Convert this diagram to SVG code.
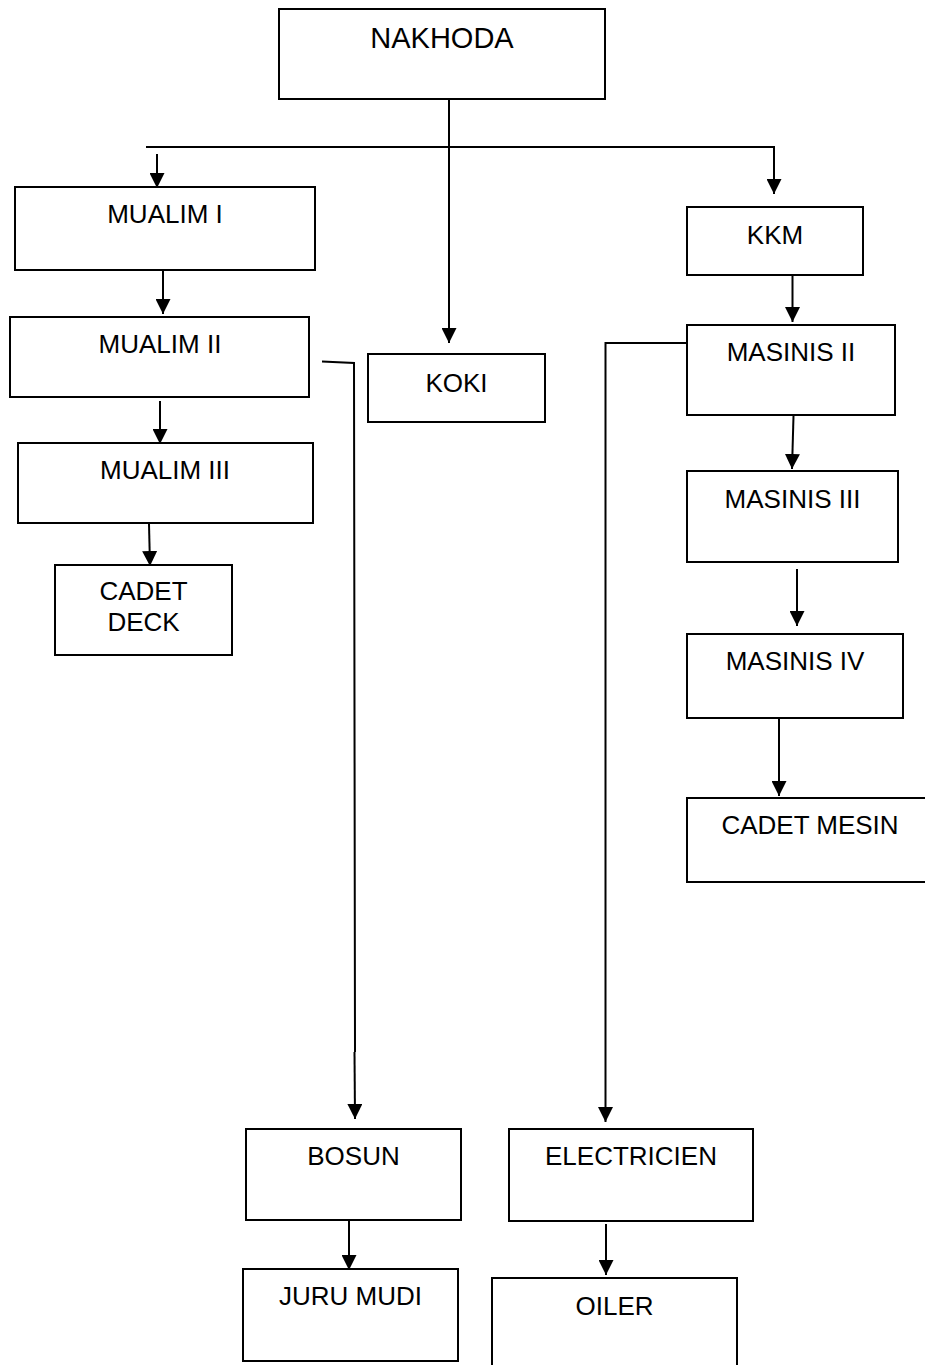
<svg xmlns="http://www.w3.org/2000/svg" width="925" height="1365" viewBox="0 0 925 1365">
<style>
.box{fill:#fff;stroke:#000;stroke-width:2}
.t{font-family:"Liberation Sans",Arial,sans-serif;font-size:26px;fill:#000;text-anchor:middle}
.c{fill:none;stroke:#000;stroke-width:2}
</style>
<defs>
<marker id="ah" markerUnits="userSpaceOnUse" markerWidth="15" markerHeight="15" refX="15" refY="7.5" orient="auto">
<path d="M0,0 L15,7.5 L0,15 z" fill="#000"/>
</marker>
</defs>
<rect width="925" height="1365" fill="#fff"/>
<g id="connectors">
<line class="c" x1="449" y1="99" x2="449" y2="343" marker-end="url(#ah)"/>
<line class="c" x1="146" y1="147" x2="775" y2="147"/>
<line class="c" x1="774" y1="147" x2="774" y2="194" marker-end="url(#ah)"/>
<line class="c" x1="157" y1="154" x2="157" y2="188" marker-end="url(#ah)"/>
<line class="c" x1="163" y1="268" x2="163" y2="314" marker-end="url(#ah)"/>
<line class="c" x1="160" y1="401" x2="160" y2="444" marker-end="url(#ah)"/>
<line class="c" x1="149" y1="524" x2="150" y2="566" marker-end="url(#ah)"/>
<polyline class="c" points="322,361.5 354,363 355,1052"/>
<line class="c" x1="354.5" y1="1052" x2="355" y2="1119" marker-end="url(#ah)"/>
<line class="c" x1="792.5" y1="275" x2="792.5" y2="322" marker-end="url(#ah)"/>
<line class="c" x1="793.5" y1="416" x2="792" y2="469" marker-end="url(#ah)"/>
<line class="c" x1="797" y1="569" x2="797" y2="626" marker-end="url(#ah)"/>
<line class="c" x1="779" y1="718" x2="779" y2="796" marker-end="url(#ah)"/>
<polyline class="c" points="687,343 605.5,343 605.5,1060"/>
<line class="c" x1="605.5" y1="1060" x2="605.5" y2="1122" marker-end="url(#ah)"/>
<line class="c" x1="349" y1="1220" x2="349" y2="1270" marker-end="url(#ah)"/>
<line class="c" x1="606" y1="1224" x2="606" y2="1275" marker-end="url(#ah)"/>
</g>
<g id="nakhoda"><rect class="box" x="279" y="9" width="326" height="90"/><text class="t" x="442" y="48" style="font-size:29px">NAKHODA</text></g>
<g id="mualim1"><rect class="box" x="15" y="187" width="300" height="83"/><text class="t" x="165" y="223">MUALIM I</text></g>
<g id="mualim2"><rect class="box" x="10" y="317" width="299" height="80"/><text class="t" x="160" y="353">MUALIM II</text></g>
<g id="mualim3"><rect class="box" x="18" y="443" width="295" height="80"/><text class="t" x="165" y="479">MUALIM III</text></g>
<g id="cadetdeck"><rect class="box" x="55" y="565" width="177" height="90"/><text class="t" x="143.5" y="600">CADET</text><text class="t" x="143.5" y="631">DECK</text></g>
<g id="koki"><rect class="box" x="368" y="354" width="177" height="68"/><text class="t" x="456.5" y="392">KOKI</text></g>
<g id="kkm"><rect class="box" x="687" y="207" width="176" height="68"/><text class="t" x="775" y="244">KKM</text></g>
<g id="masinis2"><rect class="box" x="687" y="325" width="208" height="90"/><text class="t" x="791" y="361">MASINIS II</text></g>
<g id="masinis3"><rect class="box" x="687" y="471" width="211" height="91"/><text class="t" x="792.5" y="508">MASINIS III</text></g>
<g id="masinis4"><rect class="box" x="687" y="634" width="216" height="84"/><text class="t" x="795" y="670">MASINIS IV</text></g>
<g id="cadetmesin"><rect class="box" x="687" y="798" width="250" height="84"/><text class="t" x="810" y="834">CADET MESIN</text></g>
<g id="bosun"><rect class="box" x="246" y="1129" width="215" height="91"/><text class="t" x="353.5" y="1165">BOSUN</text></g>
<g id="electricien"><rect class="box" x="509" y="1129" width="244" height="92"/><text class="t" x="631" y="1165">ELECTRICIEN</text></g>
<g id="jurumudi"><rect class="box" x="243" y="1269" width="215" height="92"/><text class="t" x="350.5" y="1305">JURU MUDI</text></g>
<g id="oiler"><rect class="box" x="492" y="1278" width="245" height="110"/><text class="t" x="614.5" y="1315">OILER</text></g>
</svg>
